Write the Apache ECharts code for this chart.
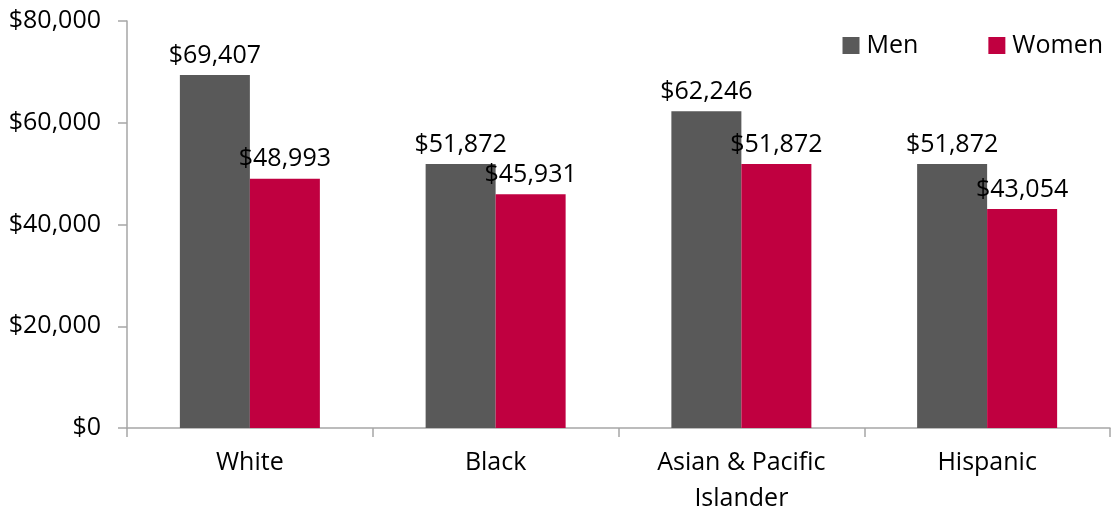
<!DOCTYPE html>
<html>
<head>
<meta charset="utf-8">
<script src="https://cdn.jsdelivr.net/npm/echarts@6/dist/echarts.min.js"></script>
<style>
  html, body { margin: 0; padding: 0; background: #fff; }
  #chart { width: 1112px; height: 513px; }
</style>
</head>
<body>
<div id="chart"></div>
<script>
// data
var categories = ['White', 'Black', 'Asian & Pacific\nIslander', 'Hispanic'];
var menValues = [69407, 51872, 62246, 51872];
var womenValues = [48993, 45931, 51872, 43054];

var FONT = 'Open Sans';

function money(v) {
    return '$' + Number(v).toLocaleString('en-US');
}

var myChart = echarts.init(document.getElementById('chart'));
var option = {
    animation: false,
    textStyle: { fontFamily: FONT },
    legend: {
        right: 4,
        top: 28,
        itemWidth: 17,
        itemHeight: 17,
        itemGap: 70,
        icon: 'rect',
        textStyle: { fontFamily: FONT, fontSize: 25, color: '#000', padding: [0, 0, 0, 2] },
        data: ['Men', 'Women']
    },
    grid: {
        left: 127,
        right: 2,
        top: 21,
        bottom: 85,
        containLabel: false,
        outerBoundsMode: 'none'
    },
    xAxis: {
        type: 'category',
        data: categories,
        axisLine: { lineStyle: { color: '#a6a6a6', width: 1.5 } },
        axisTick: { show: true, length: 9, lineStyle: { color: '#a6a6a6', width: 1.5 } },
        axisLabel: {
            color: '#000',
            fontFamily: FONT,
            fontSize: 25,
            margin: 17,
            lineHeight: 36
        }
    },
    yAxis: {
        type: 'value',
        min: 0,
        max: 80000,
        interval: 20000,
        axisLine: { show: true, lineStyle: { color: '#a6a6a6', width: 1.5 } },
        axisTick: { show: true, length: 9, lineStyle: { color: '#a6a6a6', width: 1.5 } },
        splitLine: { show: false },
        axisLabel: {
            color: '#000',
            fontFamily: FONT,
            fontSize: 25,
            margin: 26,
            formatter: money
        }
    },
    series: [
        {
            name: 'Men',
            type: 'bar',
            data: menValues,
            barWidth: 70,
            barGap: '0%',
            itemStyle: { color: '#595959' },
            label: {
                show: true,
                position: 'top',
                distance: 7,
                color: '#000',
                fontFamily: FONT,
                fontSize: 25,
                formatter: function (p) { return money(p.value); }
            }
        },
        {
            name: 'Women',
            type: 'bar',
            data: womenValues,
            barWidth: 70,
            barGap: '0%',
            itemStyle: { color: '#c00040' },
            label: {
                show: true,
                position: 'top',
                distance: 7,
                color: '#000',
                fontFamily: FONT,
                fontSize: 25,
                formatter: function (p) { return money(p.value); }
            }
        }
    ]
};
myChart.setOption(option);
</script>
</body>
</html>
